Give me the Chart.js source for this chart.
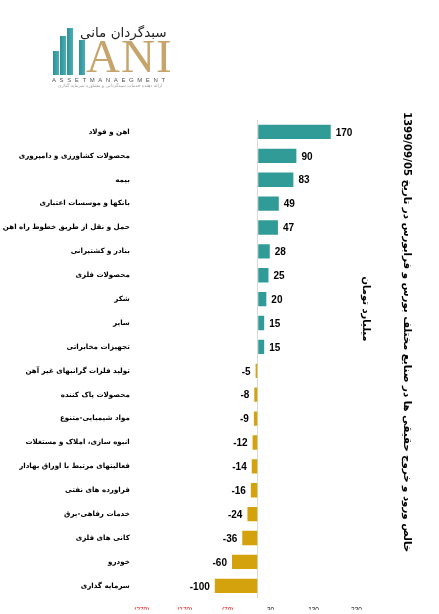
<!DOCTYPE html>
<html lang="fa" dir="ltr">
<head>
<meta charset="utf-8">
<script src="https://cdn.jsdelivr.net/npm/chart.js@4.4.1/dist/chart.umd.min.js"></script>
<style>
  html, body { margin:0; padding:0; background:#fff; }
  #wrap { position:relative; width:439px; height:614px; overflow:hidden; background:#fff; }
  #c { position:absolute; left:0; top:0; direction:ltr; }
  #logo { position:absolute; left:0; top:0; width:220px; height:110px; }
  .lb { position:absolute; background:linear-gradient(90deg,#2f8f97,#49b0b6); }
  #ani { position:absolute; left:86px; top:33px; font-family:"Liberation Serif","DejaVu Serif",serif; font-size:47px; color:#c6a56c; letter-spacing:1px; line-height:46px; }
  #asset { position:absolute; left:52px; top:77px; font-family:"Liberation Sans",sans-serif; font-size:6px; letter-spacing:3.6px; color:#555; line-height:7px; white-space:nowrap; }
  #fa { position:absolute; left:80px; top:25px; font-family:"DejaVu Sans",sans-serif; font-size:13.5px; color:#222; line-height:15px; white-space:nowrap; direction:rtl; }
  #fa2 { position:absolute; left:52px; top:83px; width:116px; font-family:"DejaVu Sans",sans-serif; font-size:4.5px; color:#999; line-height:6px; white-space:nowrap; direction:rtl; text-align:center; }
</style>
</head>
<body>
<div id="wrap">
  <canvas id="c" width="439" height="614"></canvas>
  <div id="logo">
    <div class="lb" style="left:53px;top:51px;width:6px;height:24px"></div>
    <div class="lb" style="left:60px;top:36px;width:6px;height:39px"></div>
    <div class="lb" style="left:67px;top:28px;width:6px;height:47px"></div>
    <div class="lb" style="left:79px;top:40px;width:6px;height:35px"></div>
    <div id="fa">سبدگردان مانی</div>
    <div id="ani">ANI</div>
    <div id="asset">ASSETMANAEGMENT</div>
    <div id="fa2">ارائه دهنده خدمات سبدگردانی و مشاوره سرمایه گذاری</div>
  </div>
</div>
<script>
const categories = [
  "اهن و فولاد",
  "محصولات کشاورزی و دامپروری",
  "بیمه",
  "بانکها و موسسات اعتباری",
  "حمل و نقل از طریق خطوط راه اهن",
  "بنادر و کشتیرانی",
  "محصولات فلزی",
  "شکر",
  "سایر",
  "تجهیزات مخابراتی",
  "تولید فلزات گرانبهای غیر آهن",
  "محصولات پاک کننده",
  "مواد شیمیایی-متنوع",
  "انبوه سازی، املاک و مستغلات",
  "فعالیتهای مرتبط با اوراق بهادار",
  "فراورده های نفتی",
  "خدمات رفاهی-برق",
  "کانی های فلزی",
  "خودرو",
  "سرمایه گذاری"
];
const values = [170, 90, 83, 49, 47, 28, 25, 20, 15, 15, -5, -8, -9, -12, -14, -16, -24, -36, -60, -100];
const xTickValues = [-270, -170, -70, 0, 30, 130, 230];
const titleText = "خالص ورود و خروج حقیقی ها در صنایع مختلف بورس و فرابورس در تاریخ 1399/09/05";
const unitText = "میلیارد تومان";

const TEAL = "#319b98";
const GOLD = "#d3a20c";

const valueLabels = {
  id: "valueLabels",
  afterDatasetsDraw(chart) {
    const ctx = chart.ctx;
    const meta = chart.getDatasetMeta(0);
    ctx.save();
    ctx.direction = "ltr";
    ctx.font = 'bold 10px "Liberation Sans", Arial, sans-serif';
    ctx.fillStyle = "#000";
    ctx.textBaseline = "middle";
    meta.data.forEach((bar, i) => {
      const v = values[i];
      const txt = "\u200E" + String(v);
      if (v >= 0) { ctx.textAlign = "left"; ctx.fillText(txt, bar.x + 5, bar.y + 1); }
      else { ctx.textAlign = "right"; ctx.fillText(txt, bar.x - 5, bar.y + 1); }
    });
    ctx.restore();
  }
};

const sideTexts = {
  id: "sideTexts",
  afterDraw(chart) {
    const ctx = chart.ctx;
    ctx.save();
    ctx.fillStyle = "#000";
    ctx.textAlign = "center";
    ctx.textBaseline = "middle";
    ctx.translate(407, 332);
    ctx.rotate(Math.PI / 2);
    ctx.font = 'bold 10.2px "DejaVu Sans", sans-serif';
    ctx.fillText(titleText, 0, 0);
    ctx.restore();
    ctx.save();
    ctx.fillStyle = "#000";
    ctx.textAlign = "center";
    ctx.textBaseline = "middle";
    ctx.translate(366, 309);
    ctx.rotate(Math.PI / 2);
    ctx.font = 'bold 10px "DejaVu Sans", sans-serif';
    ctx.fillText(unitText, 0, 0);
    ctx.restore();
  }
};

new Chart(document.getElementById("c"), {
  type: "bar",
  data: {
    labels: categories,
    datasets: [{
      data: values,
      backgroundColor: values.map(v => v >= 0 ? TEAL : GOLD),
      borderWidth: 0,
      categoryPercentage: 1,
      barPercentage: 0.6
    }]
  },
  options: {
    indexAxis: "y",
    responsive: false,
    animation: false,
    devicePixelRatio: 1,
    layout: { padding: { top: 120, right: 82.5, bottom: 0, left: 0 } },
    plugins: { legend: { display: false }, tooltip: { enabled: false }, title: { display: false } },
    scales: {
      x: {
        min: -270, max: 230,
        afterBuildTicks: s => { s.ticks = xTickValues.map(v => ({ value: v })); },
        afterFit: s => { s.height = 12; },
        grid: { color: c => (c.tick && c.tick.value === 0) ? "#d9d9d9" : "rgba(0,0,0,0)", drawTicks: false, lineWidth: 1 },
        border: { display: false },
        ticks: {
          autoSkip: false, maxRotation: 0, padding: 9,
          font: { size: 6.5, family: '"Liberation Sans", Arial, sans-serif' },
          color: c => c.tick && c.tick.value < 0 ? "#e00000" : "#000",
          callback: v => v === 0 ? "" : (v < 0 ? "(" + (-v) + ")" : String(v))
        }
      },
      y: {
        afterFit: s => { s.width = 141.8; },
        grid: { display: false, drawTicks: false },
        border: { display: false },
        ticks: {
          autoSkip: false, padding: 12, color: "#000",
          font: { size: 7.1, weight: "bold", family: '"DejaVu Sans", sans-serif' }
        }
      }
    }
  },
  plugins: [valueLabels, sideTexts]
});
</script>
</body>
</html>
